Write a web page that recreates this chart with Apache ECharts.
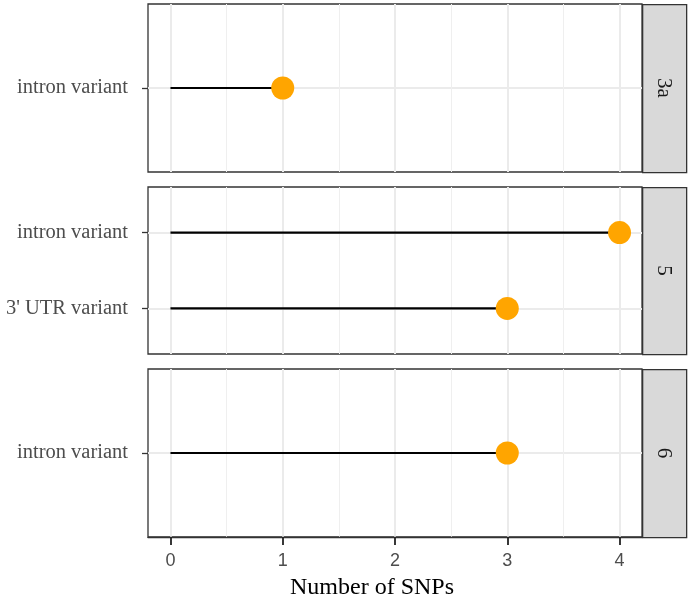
<!DOCTYPE html>
<html><head><meta charset="utf-8">
<script src="https://cdn.jsdelivr.net/npm/echarts@6/dist/echarts.min.js"></script>
<style>html,body{margin:0;padding:0;background:#fff}#c{width:690px;height:603px}</style>
</head><body><div id="c"></div>
<script>
const panels = ['3a', '5', '6'];
const panelCategories = [['intron variant'], ["3' UTR variant", 'intron variant'], ['intron variant']];
const panelValues = [[1], [3, 4], [3]];
const xTicks = [0, 1, 2, 3, 4];
const xMinorTicks = [0.5, 1.5, 2.5, 3.5];
const xTitle = 'Number of SNPs';

const serif = "'Liberation Serif', 'DejaVu Serif', serif";
const sans = "'Liberation Sans', Arial, sans-serif";
const L = 148, W = 494, stripW = 44;
const tops = [4, 187, 369];
const heights = [168, 167, 168];

const grid = [], xAxis = [], yAxis = [], series = [], graphic = [];
panels.forEach((p, i) => {
  const cats = panelCategories[i];
  const n = cats.length;
  grid.push({left: L, top: tops[i], width: W, height: heights[i], show: true,
    borderColor: '#333333', borderWidth: 1.3, backgroundColor: '#fff', containLabel: false});
  const last = i === panels.length - 1;
  xAxis.push({type: 'value', gridIndex: i, min: -0.2, max: 4.2, position: 'bottom',
    axisLine: {show: last, onZero: false, lineStyle: {color: '#333333', width: 1.3}},
    axisTick: {show: last, inside: false, customValues: xTicks, length: 8, lineStyle: {color: '#222222', width: 1.8}},
    axisLabel: {show: last, customValues: xTicks, margin: 15, fontFamily: sans, fontSize: 18, color: '#4D4D4D'},
    splitLine: {show: true, lineStyle: {color: '#EBEBEB', width: 2}}
  });
  xAxis.push({type: 'value', gridIndex: i, min: -0.2, max: 4.2, position: 'top',
    axisLine: {show: false, onZero: false},
    axisTick: {show: false, customValues: xMinorTicks},
    axisLabel: {show: false, customValues: xMinorTicks},
    splitLine: {show: true, lineStyle: {color: '#EFEFEF', width: 1}}
  });
  const yTicks = cats.map((c, k) => k + 1);
  yAxis.push({type: 'value', gridIndex: i, min: 0.4, max: n + 0.6, position: 'left',
    axisLine: {show: false, onZero: false},
    axisTick: {show: true, customValues: yTicks, length: 6, lineStyle: {color: '#333333', width: 1.3}},
    axisLabel: {show: true, customValues: yTicks, margin: 20, fontFamily: serif, fontSize: 20.5, color: '#4D4D4D',
      formatter: v => cats[Math.round(v) - 1] || ''},
    splitLine: {show: true, lineStyle: {color: '#EBEBEB', width: 2}}
  });
  const pts = panelValues[i].map((v, k) => [v, k + 1]);
  series.push({type: 'custom', xAxisIndex: 2 * i, yAxisIndex: i, data: pts, z: 3,
    renderItem: (params, api) => {
      const a = api.coord([0, api.value(1)]);
      const b = api.coord([api.value(0), api.value(1)]);
      return {type: 'line', shape: {x1: a[0], y1: a[1], x2: b[0], y2: b[1]},
        style: {stroke: '#000000', lineWidth: 2.2}};
    }});
  series.push({type: 'scatter', xAxisIndex: 2 * i, yAxisIndex: i, data: pts, z: 4,
    symbol: 'circle', symbolSize: 23, itemStyle: {color: '#FFA500', opacity: 1}});
  graphic.push({type: 'rect', left: L + W, top: tops[i], z: 10,
    shape: {width: stripW, height: heights[i]},
    style: {fill: '#D9D9D9', stroke: '#333333', lineWidth: 1.3}});
  graphic.push({type: 'text', x: L + W + stripW / 2, y: tops[i] + heights[i] / 2, rotation: -Math.PI / 2, z: 11,
    style: {text: p, fontFamily: serif, fontSize: 21, fill: '#1A1A1A', textAlign: 'center', textVerticalAlign: 'middle'}});
});
graphic.push({type: 'text', x: 372, y: 588, z: 11,
  style: {text: xTitle, fontFamily: serif, fontSize: 24, fill: '#000000', textAlign: 'center', textVerticalAlign: 'middle'}});

const chart = echarts.init(document.getElementById('c'), null, {renderer: 'canvas'});
chart.setOption({animation: false, grid, xAxis, yAxis, series, graphic});
</script></body></html>
